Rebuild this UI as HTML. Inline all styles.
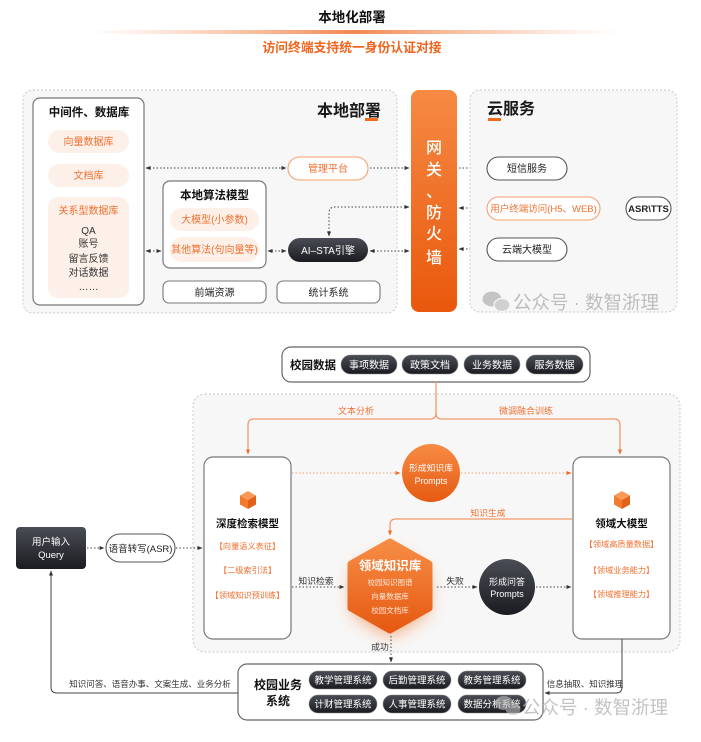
<!DOCTYPE html>
<html><head><meta charset="utf-8"><style>
html,body{margin:0;padding:0;background:#fff;}
svg{display:block;font-family:"Liberation Sans","Noto Sans CJK SC",sans-serif;}
</style></head><body>
<svg width="701" height="742" viewBox="0 0 701 742" xmlns="http://www.w3.org/2000/svg">
<defs>
<linearGradient id="tl" x1="0" x2="1" y1="0" y2="0">
<stop offset="0" stop-color="#f6a57a" stop-opacity="0"/>
<stop offset="0.5" stop-color="#f07a3a" stop-opacity="0.9"/>
<stop offset="1" stop-color="#f6a57a" stop-opacity="0"/>
</linearGradient>
<linearGradient id="gw" x1="0" x2="0" y1="0" y2="1">
<stop offset="0" stop-color="#f68a44"/><stop offset="1" stop-color="#e9580c"/>
</linearGradient>
<linearGradient id="dk" x1="0" x2="0" y1="0" y2="1">
<stop offset="0" stop-color="#4a4d55"/><stop offset="1" stop-color="#1b1c21"/>
</linearGradient>
<linearGradient id="oc" x1="0" x2="0" y1="0" y2="1">
<stop offset="0" stop-color="#f78c45"/><stop offset="1" stop-color="#e65a12"/>
</linearGradient>
<filter id="glow" x="-60%" y="-60%" width="220%" height="220%"><feGaussianBlur stdDeviation="9"/></filter>
<marker id="ad" viewBox="0 0 6 6" refX="5.5" refY="3" markerWidth="5" markerHeight="5" markerUnits="userSpaceOnUse" orient="auto-start-reverse"><path d="M0,0.5 L6,3 L0,5.5z" fill="#333"/></marker>
<marker id="ao" viewBox="0 0 6 6" refX="5.5" refY="3" markerWidth="5" markerHeight="5" markerUnits="userSpaceOnUse" orient="auto-start-reverse"><path d="M0,0.5 L6,3 L0,5.5z" fill="#f06a25"/></marker>
</defs>
<rect width="701" height="742" fill="#fff"/>

<!-- Title -->
<text x="352" y="22" font-size="13.5" font-weight="bold" fill="#111" text-anchor="middle">本地化部署</text>
<rect x="90" y="30" width="527" height="4" fill="url(#tl)"/>
<text x="352" y="52" font-size="12.8" font-weight="bold" fill="#f0641e" text-anchor="middle">访问终端支持统一身份认证对接</text>

<!-- Local deployment box -->
<rect x="23" y="90" width="374" height="223" rx="10" fill="#f7f7f7" stroke="#c9c9c9" stroke-dasharray="2 2"/>
<text x="317" y="116" font-size="16" font-weight="600" fill="#1a1a1a">本地部署</text>
<rect x="365" y="118" width="13" height="3" fill="#f26b1d"/>

<rect x="33" y="98" width="111" height="207" rx="7" fill="#fff" stroke="#777" stroke-width="1.2"/>
<text x="89" y="116" font-size="11.5" font-weight="bold" fill="#111" text-anchor="middle">中间件、数据库</text>
<rect x="48" y="130" width="81" height="23" rx="11.5" fill="#fdf0e8"/>
<text x="88.5" y="145" font-size="10" fill="#f07030" text-anchor="middle">向量数据库</text>
<rect x="48" y="164" width="81" height="23" rx="11.5" fill="#fdf0e8"/>
<text x="88.5" y="179" font-size="10" fill="#f07030" text-anchor="middle">文档库</text>
<rect x="48" y="197" width="81" height="101" rx="10" fill="#fdf0e8"/>
<text x="88.5" y="214" font-size="10" fill="#f07030" text-anchor="middle">关系型数据库</text>
<g font-size="10" fill="#333" text-anchor="middle">
<text x="88.5" y="234">QA</text>
<text x="88.5" y="247">账号</text>
<text x="88.5" y="262">留言反馈</text>
<text x="88.5" y="276">对话数据</text>
<text x="88.5" y="290">……</text>
</g>

<rect x="163" y="181" width="103" height="87" rx="7" fill="#fff" stroke="#777" stroke-width="1.2"/>
<text x="214.5" y="199" font-size="11.5" font-weight="bold" fill="#111" text-anchor="middle">本地算法模型</text>
<rect x="170" y="208" width="89" height="23" rx="11.5" fill="#fdf0e8"/>
<text x="214.5" y="223" font-size="10" fill="#f07030" text-anchor="middle">大模型(小参数)</text>
<rect x="170" y="237" width="89" height="25" rx="12" fill="#fdf0e8"/>
<text x="214.5" y="253" font-size="10" fill="#f07030" text-anchor="middle">其他算法(句向量等)</text>

<rect x="288" y="157" width="80" height="23" rx="11.5" fill="#fff" stroke="#f5a070" stroke-width="1.1"/>
<text x="328" y="172" font-size="10" fill="#f07030" text-anchor="middle">管理平台</text>
<rect x="288" y="238" width="80" height="24" rx="12" fill="url(#dk)"/>
<text x="328" y="254" font-size="10" fill="#fff" text-anchor="middle">AI–STA引擎</text>

<rect x="163" y="281" width="103" height="22" rx="6" fill="#fff" stroke="#777" stroke-width="1.1"/>
<text x="214.5" y="296" font-size="10" fill="#222" text-anchor="middle">前端资源</text>
<rect x="277" y="281" width="103" height="22" rx="6" fill="#fff" stroke="#777" stroke-width="1.1"/>
<text x="328.5" y="296" font-size="10" fill="#222" text-anchor="middle">统计系统</text>

<g stroke="#444" stroke-width="1" stroke-dasharray="1.5 2" fill="none">
<line x1="146" y1="168" x2="286" y2="168" marker-start="url(#ad)" marker-end="url(#ad)"/>
<line x1="370" y1="168" x2="409" y2="168" marker-end="url(#ad)"/>
<line x1="146" y1="251" x2="161" y2="251" marker-start="url(#ad)" marker-end="url(#ad)"/>
<line x1="268" y1="251" x2="286" y2="251" marker-start="url(#ad)" marker-end="url(#ad)"/>
<line x1="370" y1="251" x2="409" y2="251" marker-start="url(#ad)" marker-end="url(#ad)"/>
<path d="M409,207 H335 Q329,207 329,213 V236" marker-start="url(#ad)" marker-end="url(#ad)"/>
<line x1="459" y1="168" x2="485" y2="168" marker-end="url(#ad)"/>
<line x1="459" y1="208" x2="485" y2="208" marker-start="url(#ad)" marker-end="url(#ad)"/>
<line x1="602" y1="208" x2="624" y2="208" marker-start="url(#ad)" marker-end="url(#ad)"/>
<line x1="459" y1="249" x2="485" y2="249" marker-start="url(#ad)" marker-end="url(#ad)"/>
</g>

<!-- Gateway -->
<rect x="411" y="90" width="46" height="222" rx="8" fill="url(#gw)"/>
<g font-size="16" fill="#fff" text-anchor="middle" font-weight="500">
<text x="434" y="153">网</text>
<text x="434" y="175">关</text>
<text x="434" y="197">、</text>
<text x="434" y="218">防</text>
<text x="434" y="239">火</text>
<text x="434" y="263">墙</text>
</g>

<!-- Cloud -->
<rect x="470" y="90" width="207" height="222" rx="10" fill="#f7f7f7" stroke="#c9c9c9" stroke-dasharray="2 2"/>
<text x="487" y="114" font-size="16" font-weight="600" fill="#1a1a1a">云服务</text>
<rect x="488" y="118" width="13" height="3" fill="#f26b1d"/>
<rect x="487" y="157" width="80" height="23" rx="11.5" fill="#fff" stroke="#555" stroke-width="1.1"/>
<text x="527" y="172" font-size="10" fill="#222" text-anchor="middle">短信服务</text>
<rect x="487" y="197" width="113" height="23" rx="11.5" fill="#fff" stroke="#f5a070" stroke-width="1.1"/>
<text x="543.5" y="212" font-size="9.5" fill="#f07030" text-anchor="middle">用户终端访问(H5、WEB)</text>
<rect x="626" y="197" width="45" height="23" rx="11.5" fill="#fff" stroke="#555" stroke-width="1.1"/>
<text x="648.5" y="212" font-size="9.5" font-weight="bold" fill="#222" text-anchor="middle">ASR\TTS</text>
<rect x="487" y="238" width="80" height="23" rx="11.5" fill="#fff" stroke="#555" stroke-width="1.1"/>
<text x="527" y="253" font-size="10" fill="#222" text-anchor="middle">云端大模型</text>

<!-- watermark top -->
<g fill="#c4c4c4">
<ellipse cx="492" cy="299" rx="9.5" ry="7.5"/>
<ellipse cx="502" cy="305" rx="8" ry="6.5" fill="#d0d0d0" stroke="#f7f7f7" stroke-width="1.2"/>
</g>
<text x="513" y="309" font-size="18.5" fill="#bdbdbd">公众号 · 数智浙理</text>

<!-- Campus data -->
<rect x="282" y="347" width="308" height="35" rx="9" fill="#fff" stroke="#666" stroke-width="1.2"/>
<text x="290" y="369" font-size="11.5" font-weight="bold" fill="#111">校园数据</text>
<g>
<rect x="341" y="355" width="56" height="19" rx="9.5" fill="url(#dk)" stroke="#888" stroke-width="0.6"/>
<rect x="402" y="355" width="56" height="19" rx="9.5" fill="url(#dk)" stroke="#888" stroke-width="0.6"/>
<rect x="464" y="355" width="56" height="19" rx="9.5" fill="url(#dk)" stroke="#888" stroke-width="0.6"/>
<rect x="526" y="355" width="57" height="19" rx="9.5" fill="url(#dk)" stroke="#888" stroke-width="0.6"/>
</g>
<g font-size="10" fill="#fff" text-anchor="middle">
<text x="369" y="368.5">事项数据</text>
<text x="430" y="368.5">政策文档</text>
<text x="492" y="368.5">业务数据</text>
<text x="554.5" y="368.5">服务数据</text>
</g>

<!-- dashed region -->
<rect x="193" y="394" width="487" height="258" rx="12" fill="#f7f7f7" stroke="#c9c9c9" stroke-dasharray="2 2"/>

<g stroke="#f39a6a" stroke-width="1.3" fill="none">
<line x1="436" y1="382" x2="436" y2="413"/>
<path d="M436,413 Q436,419 430,419 H254 Q248,419 248,425 V454" marker-end="url(#ao)"/>
<path d="M436,413 Q436,419 442,419 H614 Q620,419 620,425 V454" marker-end="url(#ao)"/>
<path d="M572,519 H396 Q390,519 390,525 V535" marker-end="url(#ao)"/>
</g>
<text x="356" y="414" font-size="9" fill="#f07030" text-anchor="middle">文本分析</text>
<text x="526" y="414" font-size="9" fill="#f07030" text-anchor="middle">微调融合训练</text>
<text x="488" y="516" font-size="8.8" fill="#f07030" text-anchor="middle">知识生成</text>

<!-- deep retrieval box -->
<rect x="204" y="457" width="87" height="182" rx="9" fill="#fff" stroke="#777" stroke-width="1.2"/>
<g transform="translate(248,500)">
<path d="M0,-9 L8,-4.5 L0,0 L-8,-4.5z" fill="#f89a55"/>
<path d="M-8,-4.5 L0,0 L0,9 L-8,4.5z" fill="#f27a2c"/>
<path d="M0,0 L8,-4.5 L8,4.5 L0,9z" fill="#e2601a"/>
</g>
<text x="247.5" y="527" font-size="10.5" font-weight="bold" fill="#111" text-anchor="middle">深度检索模型</text>
<g font-size="8.2" fill="#f07030" text-anchor="middle">
<text x="247.5" y="549">【向量语义表征】</text>
<text x="247.5" y="573">【二级索引法】</text>
<text x="247.5" y="598">【领域知识预训练】</text>
</g>

<!-- domain LLM box -->
<rect x="573" y="457" width="97" height="182" rx="9" fill="#fff" stroke="#777" stroke-width="1.2"/>
<g transform="translate(622,500)">
<path d="M0,-9 L8,-4.5 L0,0 L-8,-4.5z" fill="#f89a55"/>
<path d="M-8,-4.5 L0,0 L0,9 L-8,4.5z" fill="#f27a2c"/>
<path d="M0,0 L8,-4.5 L8,4.5 L0,9z" fill="#e2601a"/>
</g>
<text x="621.5" y="527" font-size="10.5" font-weight="bold" fill="#111" text-anchor="middle">领域大模型</text>
<g font-size="8.2" fill="#f07030" text-anchor="middle">
<text x="621.5" y="547">【领域高质量数据】</text>
<text x="621.5" y="573">【领域业务能力】</text>
<text x="621.5" y="597">【领域推理能力】</text>
</g>

<!-- orange dotted flows -->
<g stroke="#f3a070" stroke-width="1" stroke-dasharray="1.5 2" fill="none">
<line x1="292" y1="473" x2="400" y2="473" marker-end="url(#ao)"/>
<line x1="461" y1="473" x2="571" y2="473" marker-end="url(#ao)"/>
</g>
<circle cx="431" cy="473" r="29" fill="url(#oc)"/>
<text x="431" y="471" font-size="8.8" fill="#fff" text-anchor="middle">形成知识库</text>
<text x="431" y="484" font-size="8.8" fill="#fff" text-anchor="middle">Prompts</text>

<!-- hexagon -->
<polygon points="390,552 427,573 427,613 390,636 353,613 353,573" fill="#f47a30" opacity="0.7" filter="url(#glow)"/>
<polygon points="390,542 429,564 429,608 390,630 351,608 351,564" fill="url(#oc)" stroke="url(#oc)" stroke-width="7" stroke-linejoin="round"/>
<text x="390" y="570" font-size="12.5" font-weight="bold" fill="#fff" text-anchor="middle">领域知识库</text>
<g font-size="7.5" fill="#fde6d6" text-anchor="middle">
<text x="390" y="585">校园知识图谱</text>
<text x="390" y="599">向量数据库</text>
<text x="390" y="613">校园文档库</text>
</g>

<!-- dark circle -->
<circle cx="507" cy="587" r="28" fill="url(#dk)"/>
<text x="507" y="585" font-size="9" fill="#fff" text-anchor="middle">形成问答</text>
<text x="507" y="597" font-size="9" fill="#fff" text-anchor="middle">Prompts</text>

<g stroke="#444" stroke-width="1" stroke-dasharray="1.5 2" fill="none">
<line x1="292" y1="587" x2="344" y2="587" marker-end="url(#ad)"/>
<line x1="437" y1="587" x2="477" y2="587" marker-end="url(#ad)"/>
<line x1="536" y1="587" x2="571" y2="587" marker-end="url(#ad)"/>
<line x1="391" y1="636" x2="391" y2="662" marker-end="url(#ad)"/>
<line x1="87" y1="548" x2="104" y2="548" marker-end="url(#ad)"/>
<line x1="176" y1="548" x2="202" y2="548" marker-end="url(#ad)"/>
</g>
<g font-size="8.8" fill="#333" text-anchor="middle">
<text x="316" y="584">知识检索</text>
<text x="455" y="584">失败</text>
<text x="380" y="650">成功</text>
</g>

<!-- user input -->
<rect x="16" y="527" width="70" height="42" rx="4" fill="url(#dk)"/>
<text x="51" y="545" font-size="9.5" fill="#fff" text-anchor="middle">用户输入</text>
<text x="51" y="558" font-size="9.5" fill="#fff" text-anchor="middle">Query</text>
<rect x="106" y="534" width="69" height="28" rx="14" fill="#fff" stroke="#555" stroke-width="1.1"/>
<text x="140.5" y="552" font-size="9.5" fill="#222" text-anchor="middle">语音转写(ASR)</text>

<!-- campus business systems -->
<rect x="238" y="664" width="305" height="56" rx="9" fill="#fff" stroke="#666" stroke-width="1.2"/>
<text x="278" y="689" font-size="12" font-weight="bold" fill="#111" text-anchor="middle">校园业务</text>
<text x="278" y="705" font-size="12" font-weight="bold" fill="#111" text-anchor="middle">系统</text>
<g fill="url(#dk)" stroke="#888" stroke-width="0.6">
<rect x="309" y="671" width="68" height="18" rx="9"/>
<rect x="383" y="671" width="68" height="18" rx="9"/>
<rect x="458" y="671" width="68" height="18" rx="9"/>
<rect x="309" y="695" width="68" height="18" rx="9"/>
<rect x="383" y="695" width="68" height="18" rx="9"/>
<rect x="458" y="695" width="68" height="18" rx="9"/>
</g>
<g font-size="9.5" fill="#fff" text-anchor="middle">
<text x="343" y="683.5">教学管理系统</text>
<text x="417" y="683.5">后勤管理系统</text>
<text x="492" y="683.5">教务管理系统</text>
<text x="343" y="707.5">计财管理系统</text>
<text x="417" y="707.5">人事管理系统</text>
<text x="492" y="707.5">数据分析系统</text>
</g>

<!-- feedback lines -->
<g stroke="#444" stroke-width="1" fill="none">
<path d="M238,693 H57 Q51,693 51,687 V571" marker-end="url(#ad)"/>
<path d="M622,639 V687 Q622,693 616,693 H545" marker-end="url(#ad)"/>
</g>
<text x="150" y="687" font-size="8.5" fill="#333" text-anchor="middle">知识问答、语音办事、文案生成、业务分析</text>
<text x="585" y="687" font-size="8.5" fill="#333" text-anchor="middle">信息抽取、知识推理</text>

<!-- watermark bottom -->
<g fill="#bdbdbd" opacity="0.6">
<ellipse cx="504" cy="703" rx="9" ry="7"/>
<ellipse cx="513" cy="709" rx="7.5" ry="6"/>
</g>
<text x="522" y="714" font-size="18.5" fill="#b0b0b0" opacity="0.75">公众号 · 数智浙理</text>
</svg>
</body></html>
